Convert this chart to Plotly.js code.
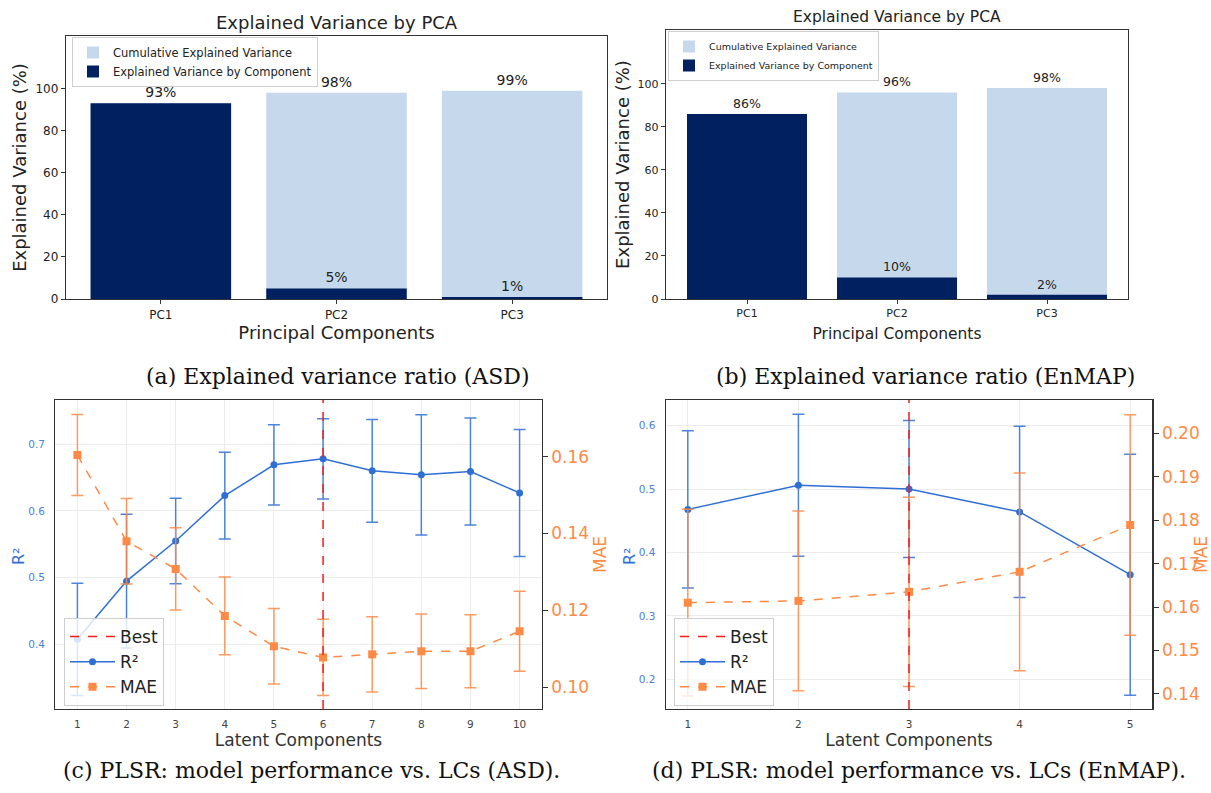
<!DOCTYPE html>
<html>
<head>
<meta charset="utf-8">
<script src="https://cdn.plot.ly/plotly-3.0.1.min.js"></script>
<style>html,body{margin:0;padding:0;background:#fff;}#chart{width:1211px;height:793px;}</style>
</head>
<body>
<div id="chart"></div>
<script>
// ---- data ----
const pcLabels = ['PC1', 'PC2', 'PC3'];
const cumASD = [93, 98, 99];
const compASD = [93, 5, 1];
const cumEnMAP = [86, 96, 98];
const compEnMAP = [86, 10, 2];

const lcASD = [1, 2, 3, 4, 5, 6, 7, 8, 9, 10];
const r2ASD = [0.408, 0.495, 0.555, 0.623, 0.669, 0.678, 0.660, 0.654, 0.659, 0.627];
const r2StdASD = [0.084, 0.100, 0.064, 0.065, 0.060, 0.060, 0.077, 0.090, 0.080, 0.095];
const maeASD = [0.1604, 0.1380, 0.1308, 0.1186, 0.1107, 0.1078, 0.1086, 0.1094, 0.1094, 0.1146];
const maeStdASD = [0.0105, 0.0111, 0.0107, 0.0101, 0.0098, 0.0099, 0.0098, 0.0097, 0.0095, 0.0104];
const bestASD = 6;

const lcEnMAP = [1, 2, 3, 4, 5];
const r2EnMAP = [0.468, 0.506, 0.500, 0.464, 0.365];
const r2StdEnMAP = [0.124, 0.112, 0.108, 0.135, 0.190];
const maeEnMAP = [0.1610, 0.1614, 0.1635, 0.1681, 0.1789];
const maeStdEnMAP = [0.0215, 0.0207, 0.0218, 0.0228, 0.0254];
const bestEnMAP = 3;

const captions = [
  '(a) Explained variance ratio (ASD)',
  '(b) Explained variance ratio (EnMAP)',
  '(c) PLSR: model performance vs. LCs (ASD).',
  '(d) PLSR: model performance vs. LCs (EnMAP).'
];

// ---- styles ----
const W = 1211, H = 793;
const px = v => v / W;
const py = v => 1 - v / H;
const FONT = 'DejaVu Sans';
const SERIF = 'DejaVu Serif';
const NAVY = '#002060';
const LIGHT = '#c6d9ec';
const BLUE = '#2e6fd6';
const ORANGE = '#ff8a45';
const TXT = '#222';

function barTraces(cum, comp, xa, ya, lg, fs) {
  const cumText = cum.map((v, i) => (v === comp[i] ? '' : v + '%'));
  const compText = comp.map(v => v + '%');
  return [
    {type: 'bar', x: pcLabels, y: cum, name: 'Cumulative Explained Variance', marker: {color: LIGHT},
     width: 0.8, xaxis: xa, yaxis: ya, legend: lg, text: cumText, textposition: 'outside',
     cliponaxis: false, textfont: {family: FONT, size: fs, color: TXT}, hoverinfo: 'y'},
    {type: 'bar', x: pcLabels, y: comp, name: 'Explained Variance by Component', marker: {color: NAVY},
     width: 0.8, xaxis: xa, yaxis: ya, legend: lg, text: compText, textposition: 'outside',
     cliponaxis: false, textfont: {family: FONT, size: fs, color: TXT}, hoverinfo: 'y'}
  ];
}

function lineTraces(x, r2, r2s, mae, maes, xa, yl, yr, lg) {
  return [
    {type: 'scatter', mode: 'lines+markers', x: x, y: r2, name: 'R²', xaxis: xa, yaxis: yl, legend: lg,
     legendrank: 2, line: {color: BLUE, width: 1.5}, marker: {color: BLUE, size: 7, symbol: 'circle'},
     error_y: {type: 'data', array: r2s, visible: true, color: 'rgba(46,111,214,0.85)', thickness: 1.5, width: 6}},
    {type: 'scatter', mode: 'lines+markers', x: x, y: mae, name: 'MAE', xaxis: xa, yaxis: yr, legend: lg,
     legendrank: 3, line: {color: ORANGE, width: 1.5, dash: 'dash'}, marker: {color: ORANGE, size: 8, symbol: 'square'},
     error_y: {type: 'data', array: maes, visible: true, color: 'rgba(255,138,69,0.85)', thickness: 1.5, width: 6}}
  ];
}

const data = [].concat(
  barTraces(cumASD, compASD, 'x', 'y', 'legend', 14),
  barTraces(cumEnMAP, compEnMAP, 'x2', 'y2', 'legend2', 12.5),
  lineTraces(lcASD, r2ASD, r2StdASD, maeASD, maeStdASD, 'x3', 'y3', 'y4', 'legend3'),
  lineTraces(lcEnMAP, r2EnMAP, r2StdEnMAP, maeEnMAP, maeStdEnMAP, 'x4', 'y5', 'y6', 'legend4')
);

const frame = {showline: true, linecolor: '#333', linewidth: 1.2, zeroline: false};

function barX(dom, anchor, fsTick, fsTitle, standoff) {
  return Object.assign({}, frame, {
    domain: dom, anchor: anchor, type: 'category', range: [-0.54, 2.54], mirror: true,
    ticks: 'outside', ticklen: 4, tickcolor: '#333', showgrid: false,
    tickfont: {family: FONT, size: fsTick, color: TXT},
    title: {text: 'Principal Components', font: {family: FONT, size: fsTitle, color: TXT}, standoff: standoff}
  });
}
function barY(dom, anchor, fsTick, fsTitle, standoff) {
  return Object.assign({}, frame, {
    domain: dom, anchor: anchor, range: [0, 125], mirror: true, tickvals: [0, 20, 40, 60, 80, 100],
    ticks: 'outside', ticklen: 4, tickcolor: '#333', showgrid: false,
    tickfont: {family: FONT, size: fsTick, color: TXT},
    title: {text: 'Explained Variance (%)', font: {family: FONT, size: fsTitle, color: TXT}, standoff: standoff}
  });
}
function lcX(dom, anchor, range, vals) {
  return Object.assign({}, frame, {
    domain: dom, anchor: anchor, range: range, tickvals: vals, mirror: true,
    ticks: '', ticklabelstandoff: 5,
    showgrid: true, gridcolor: '#ececec', gridwidth: 1,
    tickfont: {family: FONT, size: 10.5, color: '#444'},
    title: {text: 'Latent Components', font: {family: FONT, size: 17, color: '#333'}, standoff: 4}
  });
}
function r2Y(dom, anchor, range) {
  return Object.assign({}, frame, {
    domain: dom, anchor: anchor, range: range, dtick: 0.1, tick0: 0, tickformat: '.1f',
    ticks: '', ticklabelstandoff: 7,
    showgrid: true, gridcolor: '#ececec', gridwidth: 1,
    tickfont: {family: FONT, size: 10.5, color: '#4c80dc'}
  });
}
function maeY(over, anchor, range, vals, standoff) {
  return Object.assign({}, frame, {
    overlaying: over, anchor: anchor, side: 'right', range: range, tickvals: vals, tickformat: '.2f',
    ticks: 'outside', ticklen: 5, tickcolor: '#333', showgrid: false,
    tickfont: {family: FONT, size: 17, color: ORANGE},
    title: {text: 'MAE', font: {family: FONT, size: 17, color: ORANGE}, standoff: standoff}
  });
}

const domA = [px(66), px(607)], domAy = [py(299), py(36)];
const domB = [px(666), px(1128)], domBy = [py(299), py(30)];
const domC = [px(55.3), px(541.7)], domD = [px(665.7), px(1152.3)], domCDy = [py(709), py(400)];

const legBox = {bgcolor: 'rgba(255,255,255,0.8)', bordercolor: '#cfcfcf', borderwidth: 1,
                xanchor: 'left', yanchor: 'top', tracegroupgap: 0, traceorder: 'normal'};

function note(text, x, y, size, color, family, angle) {
  return {text: text, xref: 'paper', yref: 'paper', x: px(x), y: py(y), xanchor: 'center', yanchor: 'middle',
          showarrow: false, textangle: angle || 0, font: {family: family, size: size, color: color}};
}

const layout = {
  width: W, height: H, margin: {l: 0, r: 0, t: 0, b: 0},
  paper_bgcolor: '#fff', plot_bgcolor: '#fff', barmode: 'overlay', showlegend: true,
  font: {family: FONT, color: TXT},
  xaxis: barX(domA, 'y', 12, 18, 3),
  yaxis: barY(domAy, 'x', 12, 18, 4),
  xaxis2: barX(domB, 'y2', 11, 15.5, 8),
  yaxis2: barY(domBy, 'x2', 11, 18, 3),
  xaxis3: lcX(domC, 'y3', [0.55, 10.45], lcASD),
  yaxis3: r2Y(domCDy, 'x3', [0.3037, 0.766]),
  yaxis4: maeY('y3', 'x3', [0.0944, 0.1747], [0.10, 0.12, 0.14, 0.16], 6),
  xaxis4: lcX(domD, 'y5', [0.8, 5.2], lcEnMAP),
  yaxis5: r2Y(domCDy, 'x4', [0.1532, 0.6405]),
  yaxis6: maeY('y5', 'x4', [0.1365, 0.2077], [0.14, 0.15, 0.16, 0.17, 0.18, 0.19, 0.20], 14),
  legend: Object.assign({}, legBox, {x: px(72), y: py(37), font: {family: FONT, size: 11.5, color: TXT}}),
  legend2: Object.assign({}, legBox, {x: px(668), y: py(31), font: {family: FONT, size: 9.5, color: TXT}}),
  legend3: Object.assign({}, legBox, {x: px(64), y: py(618), itemwidth: 45, font: {family: FONT, size: 17, color: TXT}}),
  legend4: Object.assign({}, legBox, {x: px(674), y: py(618), itemwidth: 45, font: {family: FONT, size: 17, color: TXT}}),
  shapes: [
    {type: 'line', xref: 'x3', yref: 'y3 domain', x0: bestASD, x1: bestASD, y0: 0, y1: 1,
     line: {color: '#ff1a1a', width: 1.5, dash: 'dash'}, showlegend: true, name: 'Best', legend: 'legend3', legendrank: 1},
    {type: 'line', xref: 'x4', yref: 'y5 domain', x0: bestEnMAP, x1: bestEnMAP, y0: 0, y1: 1,
     line: {color: '#ff1a1a', width: 1.5, dash: 'dash'}, showlegend: true, name: 'Best', legend: 'legend4', legendrank: 1}
  ],
  annotations: [
    note('Explained Variance by PCA', (66 + 607) / 2, 22, 18, TXT, FONT),
    note('Explained Variance by PCA', (666 + 1128) / 2, 17, 15.5, TXT, FONT),
    note('R²', 18, 556, 16, BLUE, FONT, -90),
    note('R²', 629, 556, 16, BLUE, FONT, -90),
    note(captions[0], 338, 376, 22, '#111', SERIF),
    note(captions[1], 925, 376, 22, '#111', SERIF),
    note(captions[2], 311, 770, 22, '#111', SERIF),
    note(captions[3], 919, 770, 22, '#111', SERIF)
  ]
};

Plotly.newPlot('chart', data, layout, {displayModeBar: false, staticPlot: true});
</script>
</body>
</html>
